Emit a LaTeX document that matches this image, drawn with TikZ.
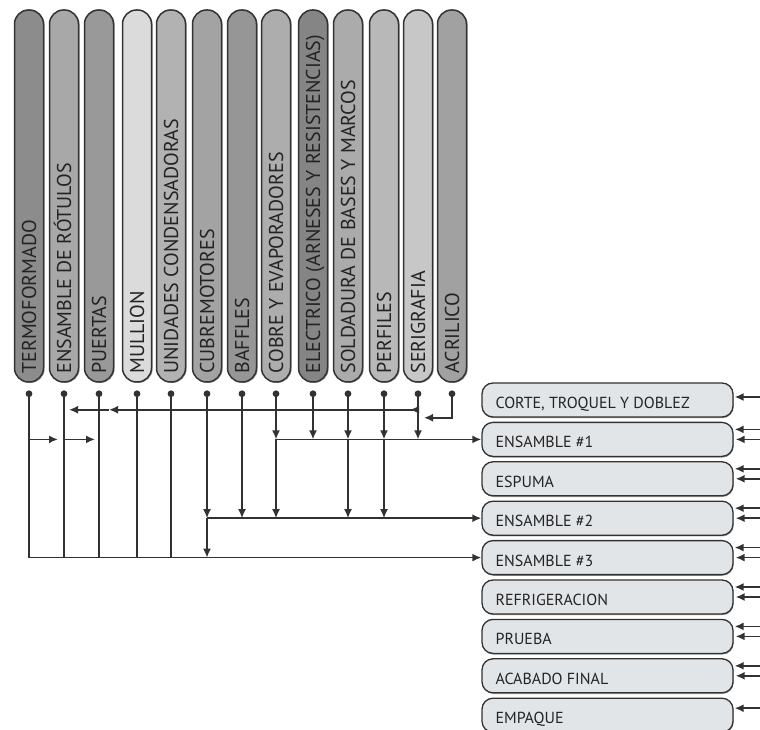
\documentclass[tikz,border=0pt]{standalone}
\usepackage{fontspec}
\setmainfont{PT Sans}
\usetikzlibrary{arrows.meta,positioning,calc,shadows}
\definecolor{trait}{RGB}{50,50,50}
\definecolor{fondcase}{RGB}{226,229,232}
\definecolor{texte}{RGB}{35,35,35}
\tikzset{
  colonne/.style={draw=trait, line width=1.5pt, rounded corners=14pt, minimum width=29pt,
    minimum height=372pt, inner sep=0pt, drop shadow={shadow xshift=1.2pt, shadow yshift=-0.8pt, fill=black!75}},
  etiqcol/.style={rotate=90, anchor=west, text height=14pt, text depth=0pt, inner sep=0pt,
    font=\fontsize{20}{20}\selectfont, text=texte},
  poste/.style={draw=trait, line width=1.3pt, rounded corners=11pt, fill=fondcase, minimum width=251pt,
    minimum height=34pt, inner sep=0pt, drop shadow={shadow xshift=0.6pt, shadow yshift=-1.2pt, fill=black!75}},
  etiqposte/.style={anchor=west, text height=11pt, text depth=0pt, inner sep=0pt,
    font=\fontsize{16}{16}\selectfont, text=texte},
  flux/.style={draw=trait, line width=1.7pt},
  fleche/.style={flux, -{Latex[length=9pt,width=8pt]}},
}

\begin{document}
\begin{tikzpicture}[x=1pt,y=1pt]
  \useasboundingbox (0,0) rectangle (760,729);
  \clip (0,0) rectangle (760,729);

  %% Colonnes (procédés)
  \foreach \i/\x/\g/\nom in {1/29/45/TERMOFORMADO, 2/64/34/ENSAMBLE DE RÓTULOS, 3/99/40/PUERTAS,
      4/137/14/MULLION, 5/171/30/UNIDADES CONDENSADORAS, 6/207/36/CUBREMOTORES, 7/242/41/BAFFLES,
      8/276/32/COBRE Y EVAPORADORES, 9/313/48/ELECTRICO (ARNESES Y RESISTENCIAS),
      10/348/33/SOLDADURA DE BASES Y MARCOS, 11/384/28/PERFILES, 12/418/22/SERIGRAFIA, 13/452/37/ACRILICO}{
    \node[colonne, fill=black!\g] (c\i) at (\x,533) {};
    \node[etiqcol] at ([yshift=9pt]c\i.south) {\nom};
    \coordinate (p\i) at ([yshift=-11pt]c\i.south);
    \fill[trait] (p\i) circle (3.4pt);
  }

  %% Postes (droite)
  \foreach \j/\nom in {1/{CORTE, TROQUEL Y DOBLEZ}, 2/ENSAMBLE \#1, 3/ESPUMA, 4/ENSAMBLE \#2,
      5/ENSAMBLE \#3, 6/REFRIGERACION, 7/PRUEBA, 8/ACABADO FINAL, 9/EMPAQUE}{
    \node[poste] (b\j) at (607.5,{329-39.4*(\j-1)}) {};
    \node[etiqposte] at ([xshift=14pt,yshift=-3pt]b\j.west) {\nom};
  }

  %% entrées à droite des postes
  \draw[fleche] ([xshift=27pt,yshift=3pt]b1.east) -- ([xshift=1pt,yshift=3pt]b1.east);
  \foreach \j in {2,...,8}{
    \draw[fleche] ([xshift=27pt,yshift=10pt]b\j.east) -- ([xshift=1pt,yshift=10pt]b\j.east);
    \draw[fleche] ([xshift=27pt]b\j.east) -- ([xshift=2pt]b\j.east);
  }
  \draw[fleche] ([xshift=27pt,yshift=7pt]b9.east) -- ([xshift=1pt,yshift=7pt]b9.east);

  %% ACRILICO -> SERIGRAFIA
  \coordinate (coude) at ([yshift=-24pt]p13);
  \draw[fleche] (p13) -- (coude) -- ([xshift=6pt]p12 |- coude);

  %% SERIGRAFIA -> PUERTAS, ENSAMBLE DE ROTULOS
  \coordinate (a12) at ([yshift=-16pt]p12);
  \coordinate (a3) at ([xshift=10pt]p3 |- a12);
  \coordinate (a2) at ([xshift=5pt]p2 |- a12);
  \draw[fleche] (a12) -- ([xshift=-8pt]a12);
  \draw[fleche] (a12) -- (a3);
  \draw[fleche] (a3) -- (a2);

  %% TERMOFORMADO -> ENSAMBLE DE ROTULOS -> PUERTAS
  \draw[fleche] (p1 |- b2.west) -- ([xshift=-6pt]p2 |- b2.west);
  \draw[fleche] (p2 |- b2.west) -- ([xshift=-4pt]p3 |- b2.west);

  %% vers ENSAMBLE #1
  \draw[fleche] (p8 |- b2.west) -- (b2.west);
  \foreach \i in {8,...,12}
    \draw[fleche] (p\i) -- (p\i |- b2.west);

  %% vers ENSAMBLE #2
  \draw[fleche] (p6 |- b4.west) -- (b4.west);
  \foreach \i in {6,7}
    \draw[fleche] (p\i) -- (p\i |- b4.west);
  \foreach \i in {8,10,11}
    \draw[fleche] (p\i |- b2.west) -- (p\i |- b4.west);

  %% vers ENSAMBLE #3
  \draw[fleche] (p1 |- b5.west) -- (b5.west);
  \foreach \i in {1,...,5}
    \draw[flux] (p\i) -- (p\i |- b5.west);
  \draw[fleche] (p6 |- b4.west) -- (p6 |- b5.west);
\end{tikzpicture}
\end{document}
